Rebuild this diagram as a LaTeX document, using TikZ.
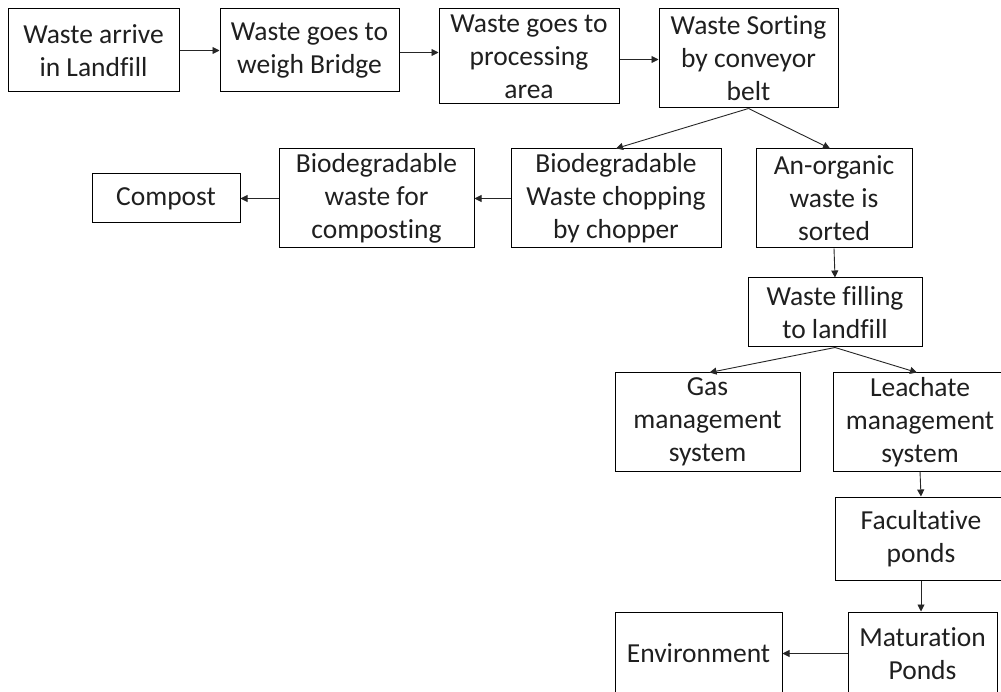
\documentclass[tikz,border=0pt]{standalone}
\usepackage{fontspec}
\setmainfont[Ligatures=NoCommon]{Carlito}
\usetikzlibrary{arrows.meta}
\tikzset{
  box/.style={draw=black, line width=1pt, rectangle, align=center, inner sep=0pt,
    font=\fontsize{27.5}{33}\selectfont, text=black!88},
  conn/.style={draw=black!85, line width=0.9pt, -{Triangle[length=7pt,width=7pt]}}
}
\begin{document}
\begin{tikzpicture}[x=1pt,y=-1pt]
\useasboundingbox (0,0) rectangle (1001,692);
\clip (0,0) rectangle (1001,692);
\fill[white] (0,0) rectangle (1001,692);
\node[box, minimum width=171pt, minimum height=83pt] (n1) at (93.5,50.5) {Waste arrive\\in Landfill};
\node[box, minimum width=179pt, minimum height=83pt] (n2) at (309.5,50.5) {Waste goes to\\weigh Bridge};
\node[box, minimum width=180pt, minimum height=95pt] (n3) at (529,56.5) {Waste goes to\\processing\\area};
\node[box, minimum width=179pt, minimum height=99pt] (n4) at (748.5,58.5) {Waste Sorting\\by conveyor\\belt};
\node[box, minimum width=210pt, minimum height=99pt] (n5) at (616,198.5) {Biodegradable\\Waste chopping\\by chopper};
\node[box, minimum width=156pt, minimum height=99pt] (n6) at (834,198.5) {An-organic\\waste is\\sorted};
\node[box, minimum width=195pt, minimum height=99pt] (n7) at (376.5,198.5) {Biodegradable\\waste for\\composting};
\node[box, minimum width=148pt, minimum height=49pt] (n8) at (166,198.5) {Compost};
\node[box, minimum width=174pt, minimum height=69pt] (n9) at (835,312.5) {Waste filling\\to landfill};
\node[box, minimum width=185pt, minimum height=98pt] (n10) at (707.5,422) {Gas\\management\\system};
\node[box, minimum width=174pt, minimum height=98pt] (n11) at (920,422) {Leachate\\management\\system};
\node[box, minimum width=172pt, minimum height=83pt] (n12) at (921,538.5) {Facultative\\ponds};
\node[box, minimum width=149pt, minimum height=83pt] (n13) at (922.5,653.5) {Maturation\\Ponds};
\node[box, minimum width=167pt, minimum height=83pt] (n14) at (698.5,653.5) {Environment};
\draw[conn] (n1.east) -- (n1.east -| n2.west);
\draw[conn] ([yshift=-2pt]n2.east) -- ([yshift=-2pt]n2.east -| n3.west);
\draw[conn] ([yshift=-3pt]n3.east) -- ([yshift=-3pt]n3.east -| n4.west);
\draw[conn] (n4.south) -- (n5.north);
\draw[conn] (n4.south) -- ([xshift=-4pt]n6.north);
\draw[conn] (n5.west) -- (n7.east);
\draw[conn] (n7.west) -- (n8.east);
\draw[conn] (n6.south) -- (n9.north);
\draw[conn] (n9.south) -- ([xshift=2pt]n10.north);
\draw[conn] (n9.south) -- ([xshift=-3pt]n11.north);
\draw[conn] (n11.south) -- (n12.north);
\draw[conn] (n12.south) -- (n12.south |- n13.north);
\draw[conn] (n13.west) -- (n14.east);
\end{tikzpicture}
\end{document}
